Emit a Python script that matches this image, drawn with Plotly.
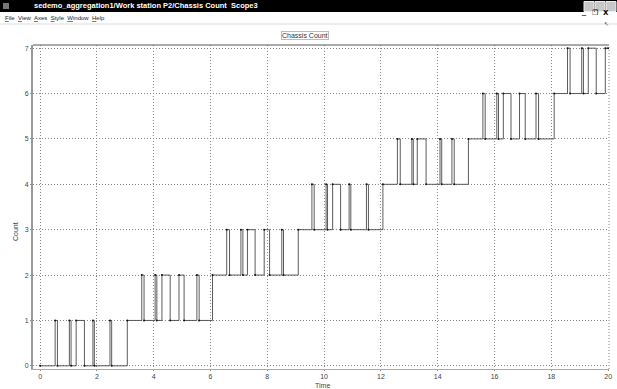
import plotly.graph_objects as go

# ---- data ----
x_ticks = [0, 2, 4, 6, 8, 10, 12, 14, 16, 18, 20]
y_ticks = [0, 1, 2, 3, 4, 5, 6, 7]
t_end = 20

# switching instants for each count level (value alternates level+1 / level)
toggles_0 = [0.53, 0.61, 1.03, 1.09, 1.27, 1.56, 1.86, 1.91, 2.46, 2.52, 3.07]
toggles_1 = [3.58, 3.66, 4.05, 4.11, 4.29, 4.58, 4.89, 5.07, 5.52, 5.60, 6.07]
toggles_2 = [6.57, 6.67, 7.07, 7.14, 7.30, 7.57, 7.89, 8.08, 8.51, 8.57, 9.09]
toggles_3 = [9.57, 9.65, 10.07, 10.12, 10.30, 10.58, 10.88, 10.94, 11.49, 11.56, 12.07]
toggles_4 = [12.58, 12.68, 13.09, 13.14, 13.28, 13.59, 14.08, 14.14, 14.50, 14.58, 15.08]
toggles_5 = [15.59, 15.67, 16.08, 16.14, 16.31, 16.58, 16.88, 17.08, 17.46, 17.55, 18.10]
toggles_6 = [18.57, 18.66, 19.07, 19.13, 19.30, 19.58, 19.90]
level_toggles = [toggles_0, toggles_1, toggles_2, toggles_3, toggles_4, toggles_5, toggles_6]

# build step signal
ts = [0.0]
vs = [0]
for base, tog in enumerate(level_toggles):
    for i, t in enumerate(tog):
        ts.append(t)
        vs.append(base + 1 if i % 2 == 0 else base)
ts.append(t_end)
vs.append(vs[-1])

W, H = 617, 389
L, R, T, B = 33, 8, 45, 20
PW, PH = W - L - R, H - T - B


def px(x):
    return (x - L) / PW


def py(y):
    return (H - B - y) / PH


fig = go.Figure()
fig.add_trace(go.Scatter(
    x=ts, y=vs, mode="lines+markers", line_shape="hv",
    line=dict(color="#4a4a4a", width=0.9),
    marker=dict(color="#111", size=2),
    showlegend=False, hoverinfo="skip"))

axis_font = dict(family="Liberation Sans", size=7, color="#444")
fig.update_xaxes(range=[-0.25, 20.03], tickvals=x_ticks, ticktext=[str(v) for v in x_ticks],
                 showgrid=True, gridcolor="#888", griddash="1px,2px", gridwidth=1,
                 zeroline=False, showline=True, linecolor="#aaa", linewidth=1,
                 ticks="outside", ticklen=1, tickcolor="#888", tickfont=axis_font,
                 automargin=False)
fig.update_yaxes(range=[-0.07, 7.07], tickvals=y_ticks, ticktext=[str(v) for v in y_ticks],
                 showgrid=True, gridcolor="#888", griddash="1px,2px", gridwidth=1,
                 zeroline=False, showline=True, linecolor="#999", linewidth=2,
                 ticks="outside", ticklen=1, tickcolor="#888", tickfont=axis_font,
                 automargin=False)

shapes = []
# top border of the axes
shapes.append(dict(type="line", xref="paper", yref="paper", x0=0, x1=1, y0=1, y1=1,
                   line=dict(color="#555", width=1)))
# right border
shapes.append(dict(type="line", xref="paper", yref="paper", x0=1, x1=1, y0=0, y1=1,
                   line=dict(color="#888", width=1, dash="1px,2px")))
# window title bar
shapes.append(dict(type="rect", xref="paper", yref="paper", x0=px(0), x1=px(W),
                   y0=py(12), y1=py(0), fillcolor="black", line=dict(width=0), layer="above"))
# small window icon
shapes.append(dict(type="rect", xref="paper", yref="paper", x0=px(3), x1=px(9),
                   y0=py(9), y1=py(3), fillcolor="#777", line=dict(width=0), layer="above"))
# buttons
for bx in (584, 595, 606):
    shapes.append(dict(type="rect", xref="paper", yref="paper", x0=px(bx), x1=px(bx + 10),
                       y0=py(11.5), y1=py(1.5), fillcolor="#c8c8c8",
                       line=dict(color="#eee", width=1), layer="above"))
# separator under menu bar
shapes.append(dict(type="line", xref="paper", yref="paper", x0=px(0), x1=px(W),
                   y0=py(24), y1=py(24), line=dict(color="#ddd", width=1)))

annotations = [
    dict(text="<b>sedemo_aggregation1/Work station P2/Chassis Count  Scope3</b>",
         x=px(32), y=py(6), xref="paper", yref="paper", xanchor="left", yanchor="middle",
         showarrow=False, font=dict(family="Liberation Sans", size=7.5, color="white")),
    dict(text="_", x=px(589), y=py(5), xref="paper", yref="paper", showarrow=False,
         font=dict(family="DejaVu Sans", size=8, color="black")),
    dict(text="❐", x=px(600), y=py(6.5), xref="paper", yref="paper", showarrow=False,
         font=dict(family="DejaVu Sans", size=7, color="black")),
    dict(text="<b>X</b>", x=px(611), y=py(6.5), xref="paper", yref="paper", showarrow=False,
         font=dict(family="DejaVu Sans", size=7, color="black")),
    dict(text="<u>F</u>ile  <u>V</u>iew  <u>A</u>xes  <u>S</u>tyle  <u>W</u>indow  <u>H</u>elp",
         x=px(3), y=py(18), xref="paper", yref="paper", xanchor="left", yanchor="middle",
         showarrow=False, font=dict(family="Liberation Sans", size=6, color="#222")),
    dict(text="↖", x=px(611), y=py(18), xref="paper", yref="paper", showarrow=False,
         font=dict(family="DejaVu Sans", size=6, color="#333")),
    dict(text="Chassis Count", x=px(305), y=py(31), xref="paper", yref="paper",
         showarrow=False, font=dict(family="Liberation Sans", size=7, color="#333"),
         bordercolor="#bbb", borderwidth=1, borderpad=0),
    dict(text="Count", x=px(15), y=py(232), xref="paper", yref="paper", textangle=-90,
         xanchor="center", yanchor="middle",
         showarrow=False, font=dict(family="Liberation Sans", size=7, color="#444")),
    dict(text="Time", x=px(322), y=py(385), xref="paper", yref="paper",
         xanchor="center", yanchor="middle",
         showarrow=False, font=dict(family="Liberation Sans", size=7, color="#444")),
]

fig.update_layout(width=W, height=H, margin=dict(l=L, r=R, t=T, b=B, pad=0),
                  paper_bgcolor="white", plot_bgcolor="white",
                  shapes=shapes, annotations=annotations)

fig.write_html("out.html", config={"displayModeBar": False},
               post_script="document.body.style.margin='0px';document.body.style.overflow='hidden';")
